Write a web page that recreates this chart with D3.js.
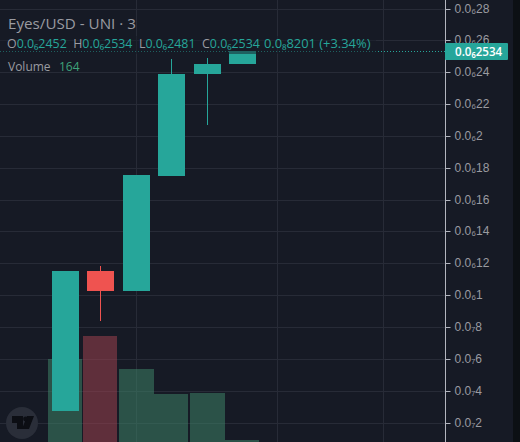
<!DOCTYPE html>
<html lang="en">
<head>
    <meta charset="UTF-8">
    <title>Eyes/USD</title>
    <script src="https://d3js.org/d3.v7.min.js"></script>
    <style>
        html, body { margin: 0; padding: 0; background: #161a25; overflow: hidden; }
        svg { display: block; font-family: "Open Sans", "Noto Sans", sans-serif; }
        .tick text { fill: #9a9ba1; font-size: 12px; }
    </style>
</head>
<body>
    <svg id="chart" width="520" height="442"></svg>

    <script>
        // Prices are in units of 1e-7 (0.0₆1 = 1)
        const slots = [0, 1, 2, 3, 4, 5];
        const opens = [0.275, 1.154, 1.029, 1.75, 2.39, 2.452];
        const closes = [1.154, 1.029, 1.757, 2.39, 2.452, 2.534];
        const highs = [1.154, 1.186, 1.757, 2.486, 2.49, 2.534];
        const lows = [0.275, 0.84, 1.029, 1.75, 2.07, 2.452];
        const volumes = [6800, 8700, 6000, 3940, 4020, 164];

        const tickValues = [2.8, 2.6, 2.4, 2.2, 2, 1.8, 1.6, 1.4, 1.2, 1, 0.8, 0.6, 0.4, 0.2];
        const tickLabels = ["0.0₆28", "0.0₆26", "0.0₆24", "0.0₆22", "0.0₆2", "0.0₆18", "0.0₆16",
            "0.0₆14", "0.0₆12", "0.0₆1", "0.0₇8", "0.0₇6", "0.0₇4", "0.0₇2"];
        const gridSlots = [2, 6, 8.97];

        const legendParts = [
            ["O", "0.0₆2452"], ["H", "0.0₆2534"], ["L", "0.0₆2481"], ["C", "0.0₆2534"]
        ];

        const axisX = 445;
        const upColor = "#26a69a";
        const downColor = "#ef5350";

        const svg = d3.select("#chart");

        const y = d3.scaleLinear().domain([2.8, 0.2]).range([9, 423]);
        const x = d3.scaleLinear().domain([0, 5]).range([65.5, 242.5]);
        const volY = d3.scaleLinear().domain([0, 8700]).range([442, 336]);
        const snap = v => Math.floor(v) + 0.5;

        // Grid
        svg.append("g").selectAll("line")
            .data(tickValues)
            .enter().append("line")
            .attr("x1", 0).attr("x2", axisX)
            .attr("y1", d => snap(y(d))).attr("y2", d => snap(y(d)))
            .attr("stroke", "#272b37");

        svg.append("g").selectAll("line")
            .data(gridSlots)
            .enter().append("line")
            .attr("x1", d => snap(x(d))).attr("x2", d => snap(x(d)))
            .attr("y1", 0).attr("y2", 442)
            .attr("stroke", "#272b37");

        // Volume bars, translucent so the grid shows through
        svg.append("g").selectAll("rect")
            .data(slots)
            .enter().append("rect")
            .attr("x", d => Math.round(x(d) - 17.5))
            .attr("width", d => d === 2 || d === 4 ? 35 : 34)
            .attr("y", d => Math.round(volY(volumes[d])))
            .attr("height", d => 442 - Math.round(volY(volumes[d])))
            .attr("fill", d => closes[d] >= opens[d] ? "#408a6b" : "#a84451")
            .attr("opacity", 0.5);

        // Wicks
        svg.append("g").selectAll("line")
            .data(slots)
            .enter().append("line")
            .attr("x1", d => snap(x(d))).attr("x2", d => snap(x(d)))
            .attr("y1", d => Math.round(y(highs[d]))).attr("y2", d => Math.round(y(lows[d])))
            .attr("stroke", d => closes[d] >= opens[d] ? upColor : downColor);

        // Bodies
        svg.append("g").selectAll("rect")
            .data(slots)
            .enter().append("rect")
            .attr("x", d => Math.round(x(d) - 13.5))
            .attr("width", 27)
            .attr("y", d => Math.round(y(Math.max(opens[d], closes[d]))))
            .attr("height", d => Math.round(y(Math.min(opens[d], closes[d]))) - Math.round(y(Math.max(opens[d], closes[d]))))
            .attr("fill", d => closes[d] >= opens[d] ? upColor : downColor);

        // Last price line
        svg.append("line")
            .attr("x1", 0).attr("x2", axisX)
            .attr("y1", 51.5).attr("y2", 51.5)
            .attr("stroke", upColor)
            .attr("stroke-dasharray", "1 2");

        // Price axis
        const axis = d3.axisRight(y)
            .tickValues(tickValues)
            .tickFormat((d, i) => tickLabels[i])
            .tickSize(5)
            .tickPadding(4);

        const axisG = svg.append("g")
            .attr("transform", `translate(${axisX + 0.5},0)`)
            .call(axis);
        axisG.select(".domain").remove();
        axisG.selectAll(".tick").attr("transform", d => `translate(0,${snap(y(d))})`);
        axisG.selectAll(".tick line").attr("stroke", "#b2b5be");
        svg.append("line")
            .attr("x1", axisX + 0.5).attr("x2", axisX + 0.5)
            .attr("y1", 0).attr("y2", 442)
            .attr("stroke", "#b2b5be");

        // Right edge strip
        svg.append("rect")
            .attr("x", 513).attr("y", 0).attr("width", 7).attr("height", 442)
            .attr("fill", "#0c1014");

        // Last price label
        svg.append("rect")
            .attr("x", axisX).attr("y", 43).attr("width", 63).attr("height", 17)
            .attr("rx", 1).attr("fill", upColor);
        svg.append("text")
            .attr("x", 455).attr("y", 56)
            .attr("fill", "#fff").attr("font-size", 11.6).attr("font-weight", 600)
            .text("0.0₆2534");

        // Legend, the row has a soft backdrop that dims what runs under it
        svg.append("rect")
            .attr("x", 0).attr("y", 36).attr("width", 376).attr("height", 18)
            .attr("fill", "#161a25").attr("opacity", 0.5);

        svg.append("text")
            .attr("x", 8).attr("y", 29)
            .attr("fill", "#9a9ba1").attr("font-size", 15.2)
            .text("Eyes/USD - UNI · 3");

        const legend = svg.append("text")
            .attr("x", 7).attr("y", 48)
            .attr("font-size", 12.4);
        legendParts.forEach(([k, v], i) => {
            legend.append("tspan").attr("fill", "#9a9ba1").attr("dx", i ? 6.5 : 0).text(k);
            legend.append("tspan").attr("fill", upColor).text(v);
        });
        legend.append("tspan").attr("fill", upColor).attr("dx", 4).attr("font-size", 12.9).text("0.0₈8201 (+3.34%)");

        svg.append("text")
            .attr("x", 8).attr("y", 71)
            .attr("fill", "#9a9ba1").attr("font-size", 12)
            .text("Volume");
        svg.append("text")
            .attr("x", 59).attr("y", 71)
            .attr("fill", "#3fa37a").attr("font-size", 12)
            .text("164");

        // Logo badge
        svg.append("circle")
            .attr("cx", 22).attr("cy", 423).attr("r", 16)
            .attr("fill", "#2a2e39");
        svg.append("path")
            .attr("d", "M12 416H23V429H17V423H12Z M27 416H34L29 429H22Z")
            .attr("fill", "#0c0e14");
        svg.append("circle")
            .attr("cx", 25.5).attr("cy", 419).attr("r", 2.4)
            .attr("fill", "#0c0e14");
    </script>
</body>
</html>
